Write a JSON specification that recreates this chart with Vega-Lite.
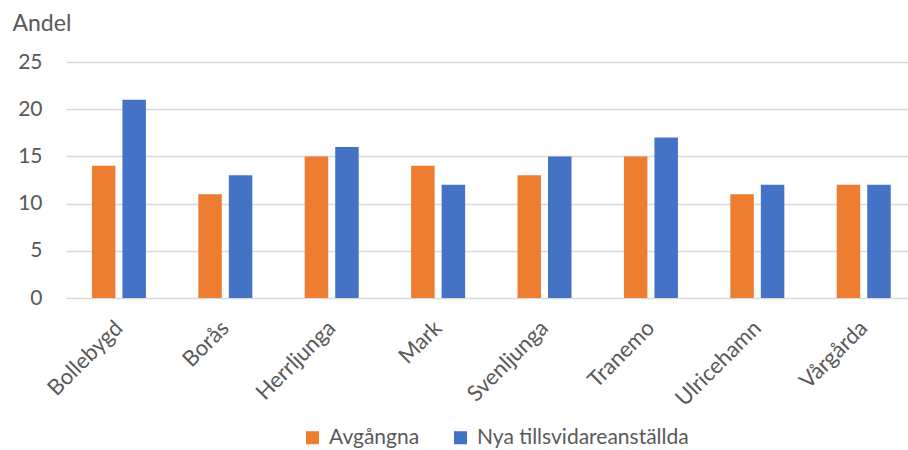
{
 "$schema": "https://vega.github.io/schema/vega-lite/v6.json",
 "width": 842, "height": 236,
 "autosize": {"type": "none"},
 "padding": {"left": 66, "top": 62, "right": 0, "bottom": 152},
 "background": "white",
 "config": {"font": "Lato", "view": {"stroke": null}},
 "data": {"values": [
  {"kommun": "Bollebygd", "serie": "Avgångna", "andel": 14},
  {"kommun": "Bollebygd", "serie": "Nya tillsvidareanställda", "andel": 21},
  {"kommun": "Borås", "serie": "Avgångna", "andel": 11},
  {"kommun": "Borås", "serie": "Nya tillsvidareanställda", "andel": 13},
  {"kommun": "Herrljunga", "serie": "Avgångna", "andel": 15},
  {"kommun": "Herrljunga", "serie": "Nya tillsvidareanställda", "andel": 16},
  {"kommun": "Mark", "serie": "Avgångna", "andel": 14},
  {"kommun": "Mark", "serie": "Nya tillsvidareanställda", "andel": 12},
  {"kommun": "Svenljunga", "serie": "Avgångna", "andel": 13},
  {"kommun": "Svenljunga", "serie": "Nya tillsvidareanställda", "andel": 15},
  {"kommun": "Tranemo", "serie": "Avgångna", "andel": 15},
  {"kommun": "Tranemo", "serie": "Nya tillsvidareanställda", "andel": 17},
  {"kommun": "Ulricehamn", "serie": "Avgångna", "andel": 11},
  {"kommun": "Ulricehamn", "serie": "Nya tillsvidareanställda", "andel": 12},
  {"kommun": "Vårgårda", "serie": "Avgångna", "andel": 12},
  {"kommun": "Vårgårda", "serie": "Nya tillsvidareanställda", "andel": 12}
 ]},
 "mark": {"type": "bar"},
 "encoding": {
  "x": {"field": "kommun", "type": "nominal", "sort": null,
        "scale": {"paddingInner": 0.4925, "paddingOuter": 0.203, "align": 0.6},
        "axis": {"title": null, "labelAngle": -45, "labelFontSize": 22, "labelColor": "#595959", "ticks": false, "domain": false, "labelPadding": 19, "labelOffset": -7}},
  "xOffset": {"field": "serie", "type": "nominal", "sort": ["Avgångna", "Nya tillsvidareanställda"], "scale": {"paddingInner": 0.23}},
  "y": {"field": "andel", "type": "quantitative", "scale": {"domain": [0, 25]},
        "axis": {"values": [0, 5, 10, 15, 20, 25], "title": "Andel", "titleAngle": 0, "titleAlign": "left", "titleBaseline": "alphabetic",
                 "titleX": -54, "titleY": -32, "titleFontSize": 23, "titleFontWeight": "normal", "titleColor": "#595959",
                 "labelFontSize": 21, "labelColor": "#595959", "labelPadding": 24, "ticks": false, "domain": false,
                 "gridColor": "#D9D9D9", "gridWidth": 1.3}},
  "color": {"field": "serie", "type": "nominal", "sort": ["Avgångna", "Nya tillsvidareanställda"],
            "scale": {"range": ["#ED7D31", "#4472C4"]},
            "legend": {"title": null, "orient": "none", "direction": "horizontal", "legendX": 236, "legendY": 365,
                       "symbolType": "square", "symbolSize": 170, "symbolStrokeWidth": 0, "labelFontSize": 21, "labelColor": "#595959",
                       "labelLimit": 0, "columnPadding": 30, "labelOffset": 6}}
 }
}
